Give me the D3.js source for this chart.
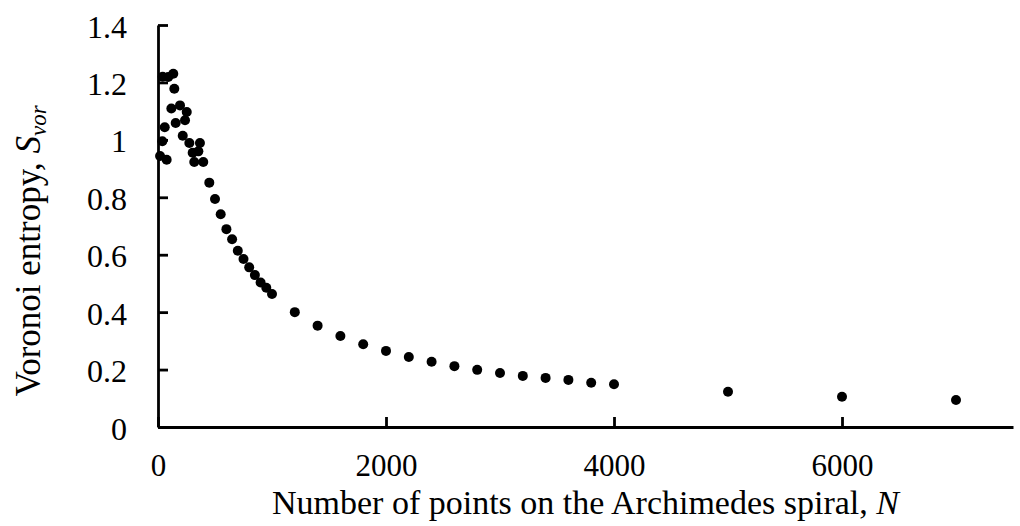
<!DOCTYPE html>
<html>
<head>
<meta charset="utf-8">
<script src="https://cdn.jsdelivr.net/npm/d3@7"></script>
<style>
  html, body { margin: 0; padding: 0; background: #fff; }
  svg { display: block; }
  text { font-family: "Liberation Serif", "Times New Roman", serif; fill: #000; }
</style>
</head>
<body>
<svg id="chart" width="1020" height="526"></svg>
<script>
// Number of points N on the spiral and the Voronoi entropy measured for each
const nPoints = [
  18, 38, 41, 59, 76, 90, 117, 134, 143, 155,
  193, 217, 237, 252, 275, 304, 318, 354, 368, 397,
  450, 500, 550, 600, 650, 700, 750, 800, 850, 900, 950, 1000,
  1200, 1400, 1600, 1800, 2000, 2200, 2400, 2600, 2800, 3000,
  3200, 3400, 3600, 3800, 4000, 5000, 6000, 7000
];
const entropy = [
  0.944, 0.995, 1.220, 1.044, 0.931, 1.219, 1.109, 1.230, 1.178, 1.059,
  1.120, 1.014, 1.068, 1.097, 0.989, 0.955, 0.923, 0.960, 0.989, 0.923,
  0.851, 0.794, 0.741, 0.689, 0.654, 0.614, 0.585, 0.556, 0.529, 0.503, 0.485, 0.463,
  0.400, 0.353, 0.317, 0.288, 0.265, 0.244, 0.227, 0.212, 0.199, 0.188,
  0.178, 0.171, 0.164, 0.154, 0.149, 0.123, 0.1055, 0.094
];
const xTicks = [0, 2000, 4000, 6000];
const yTicks = [0, 0.2, 0.4, 0.6, 0.8, 1, 1.2, 1.4];
const xLabel = "Number of points on the Archimedes spiral, ";
const xLabelVar = "N";
const yLabel = "Voronoi entropy, ";

const points = nPoints.map((n, i) => ({ n, s: entropy[i] }));

const svg = d3.select("#chart");
const x = d3.scaleLinear().domain([0, 7500]).range([158, 1013]);
const y = d3.scaleLinear().domain([0, 1.4]).range([427, 25]);

// x axis: ticks point inward (upward)
const gx = svg.append("g")
  .attr("transform", `translate(0,${y(0)})`)
  .call(d3.axisBottom(x).tickValues(xTicks).tickSizeInner(-10).tickSizeOuter(0).tickFormat(d3.format("d")));
gx.select(".domain").attr("stroke", "#000").attr("stroke-width", 2.8);
gx.selectAll(".tick line").attr("stroke", "#000").attr("stroke-width", 2.8);
gx.selectAll(".tick text")
  .attr("y", 49).attr("dy", null)
  .style("font-family", "Liberation Serif").style("font-size", "31px");

// y axis: ticks point inward (to the right)
const gy = svg.append("g")
  .attr("transform", `translate(${x(0)},0)`)
  .call(d3.axisLeft(y).tickValues(yTicks).tickSizeInner(-10).tickSizeOuter(0).tickFormat(d => d3.format("~g")(d)));
gy.select(".domain").attr("stroke", "#000").attr("stroke-width", 2.8);
gy.selectAll(".tick line").attr("stroke", "#000").attr("stroke-width", 2.8);
gy.selectAll(".tick text")
  .attr("x", -31).attr("dy", "12px").attr("text-anchor", "end")
  .style("font-family", "Liberation Serif").style("font-size", "32px");

// data points
svg.append("g")
  .selectAll("circle")
  .data(points)
  .join("circle")
  .attr("cx", d => x(d.n))
  .attr("cy", d => y(d.s))
  .attr("r", 5)
  .attr("fill", "#000");

// axis titles
const xt = svg.append("text")
  .attr("x", (x.range()[0] + x.range()[1]) / 2)
  .attr("y", 514)
  .attr("text-anchor", "middle")
  .style("font-size", "34px");
xt.append("tspan").text(xLabel);
xt.append("tspan").style("font-style", "italic").text(xLabelVar);

const yt = svg.append("text")
  .attr("transform", "translate(40,251) rotate(-90)")
  .attr("text-anchor", "middle")
  .style("font-size", "35px");
yt.append("tspan").text(yLabel);
yt.append("tspan").style("font-style", "italic").text("S");
yt.append("tspan").style("font-style", "italic").style("font-size", "23px").attr("dy", "6").text("vor");
</script>
</body>
</html>
